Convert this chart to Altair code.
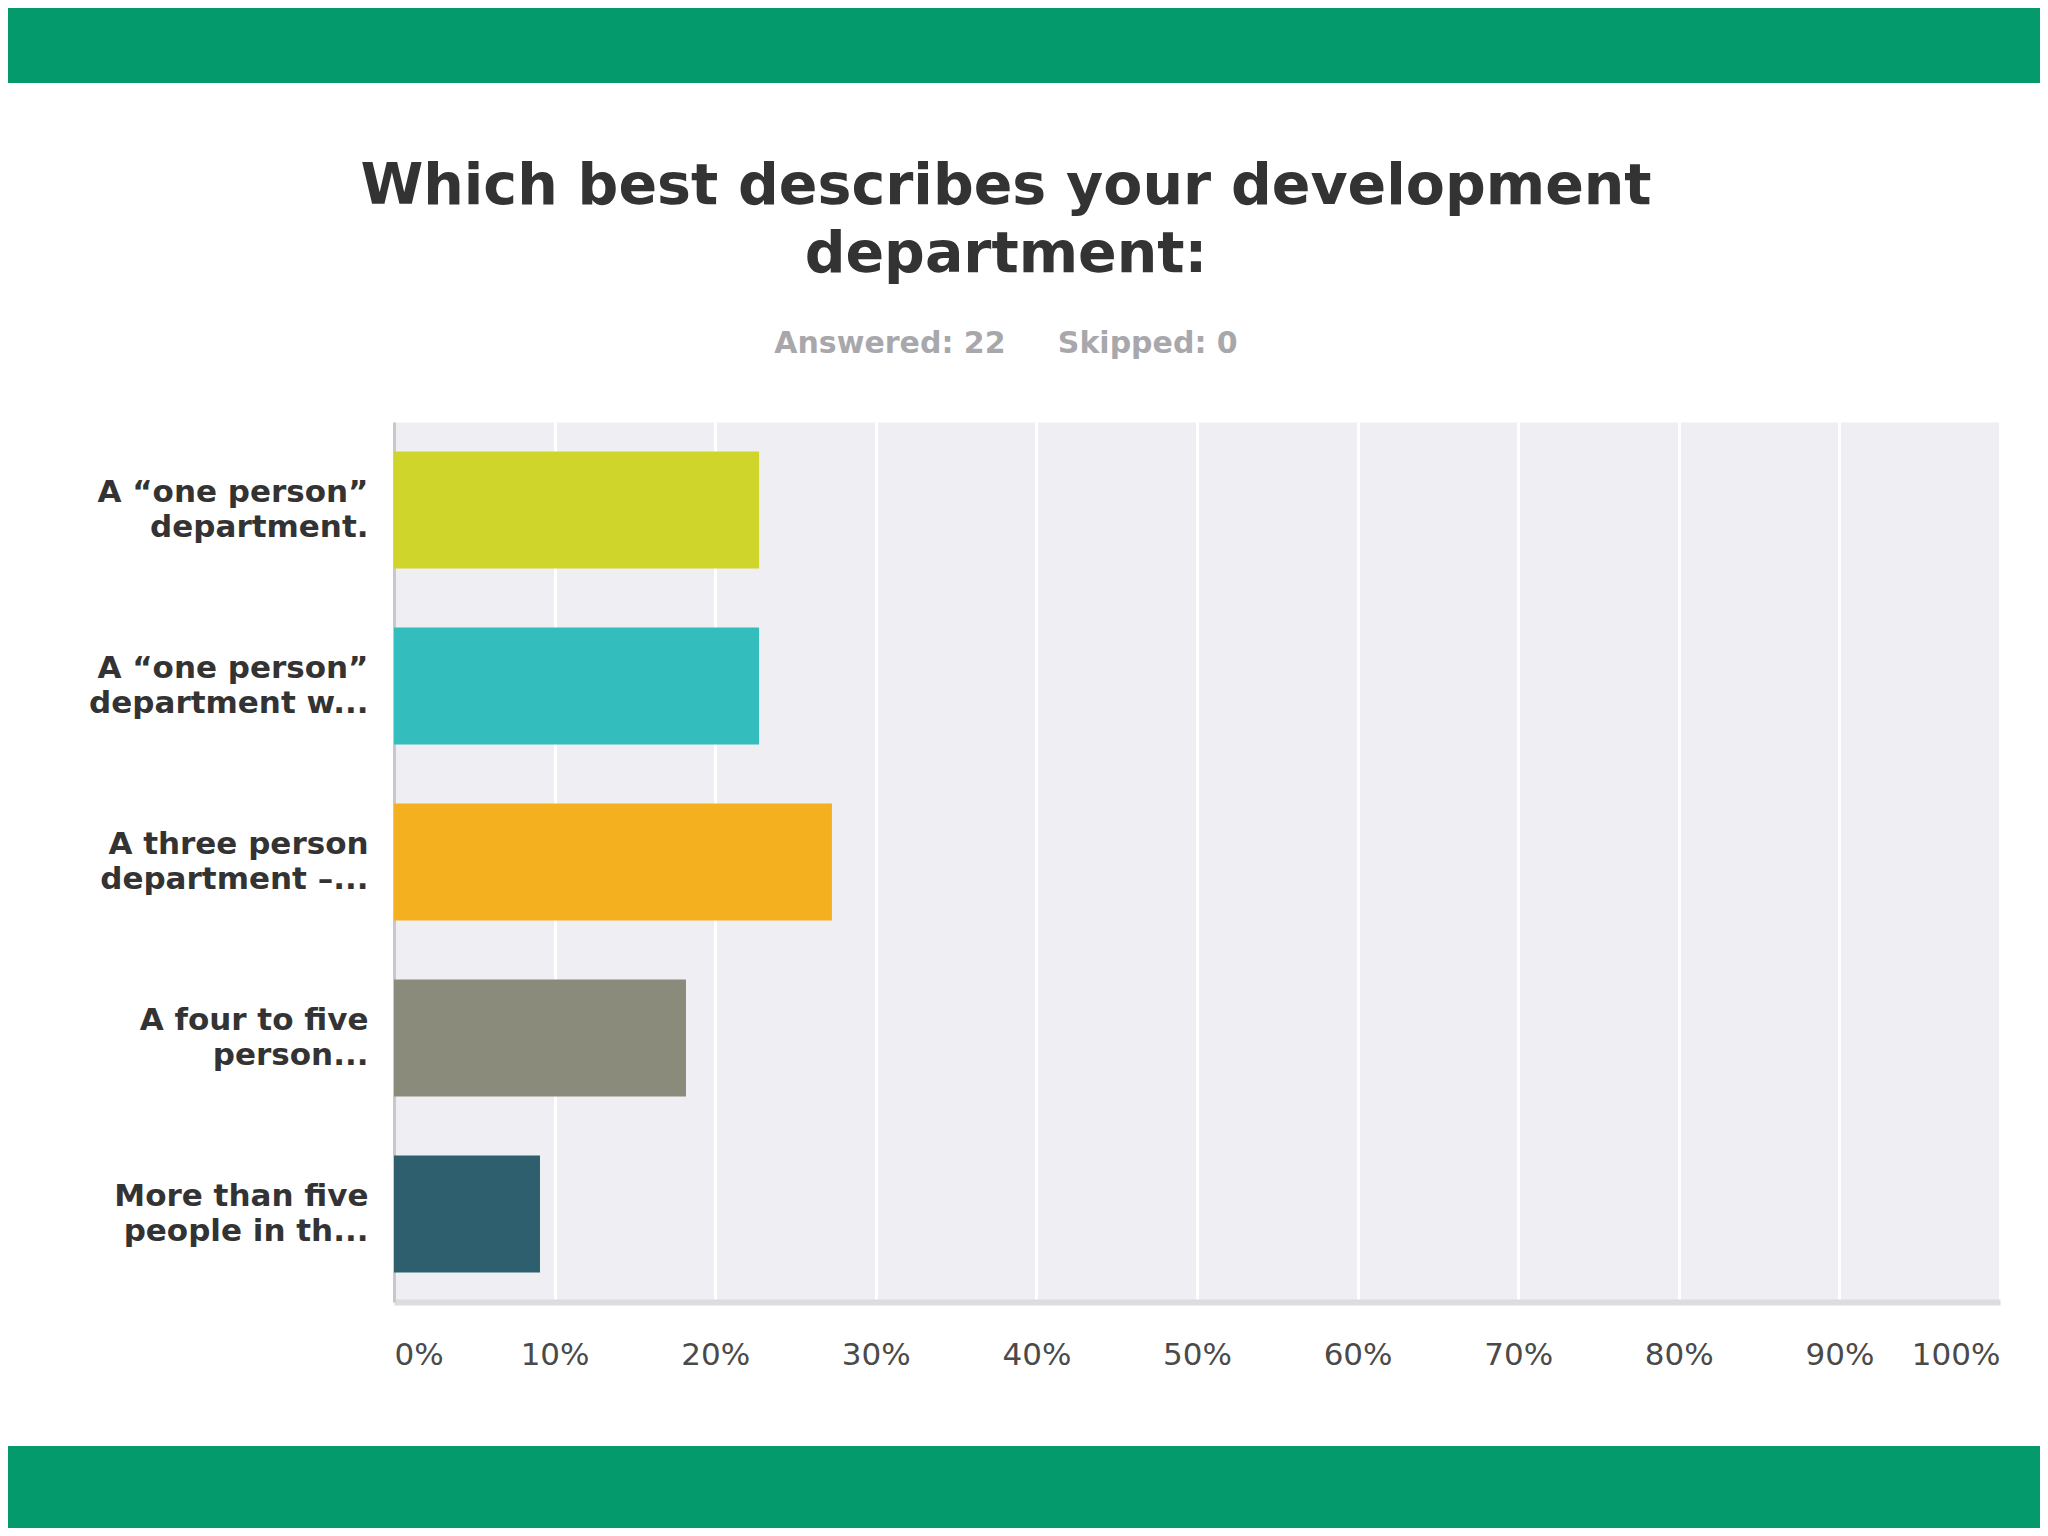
import altair as alt
import pandas as pd

# ---- data ----
categories = [
    "A “one person”\ndepartment.",
    "A “one person”\ndepartment w...",
    "A three person\ndepartment –...",
    "A four to five\nperson...",
    "More than five\npeople in th...",
]
percents = [22.73, 22.73, 27.27, 18.18, 9.09]
bar_colors = ["#cfd52b", "#33bdbd", "#f4b01f", "#8a8b7a", "#2e5f6e"]
tick_values = [0, 10, 20, 30, 40, 50, 60, 70, 80, 90, 100]

title_lines = ["Which best describes your development", "department:"]
subtitle_text = "Answered: 22\u00a0\u00a0\u00a0\u00a0\u00a0Skipped: 0"

df = pd.DataFrame({"answer": categories, "pct": [p / 100 for p in percents]})

W, H = 1606, 880
PAD_L, PAD_T, PAD_R, PAD_B = 386, 414, 40, 226
GREEN = "#049a6b"
TITLE_X = 612

bars = alt.Chart(df).mark_bar().encode(
    y=alt.Y(
        "answer:N",
        sort=categories,
        scale=alt.Scale(paddingInner=0.335, paddingOuter=0.1675),
        axis=alt.Axis(
            title=None,
            labelExpr="split(datum.label, '\\n')",
            labelFont="DejaVu Sans",
            labelFontWeight="bold",
            labelFontSize=31,
            labelColor="#333333",
            labelLineHeight=35,
            labelPadding=26,
            labelOffset=-17,
            labelLimit=500,
            labelAlign="right",
            labelBaseline="middle",
            ticks=False,
            tickSize=0,
            domain=True,
            domainColor="#c8c8cc",
            domainWidth=3,
            grid=False,
        ),
    ),
    x=alt.X(
        "pct:Q",
        scale=alt.Scale(domain=[0, 1]),
        axis=alt.Axis(
            title=None,
            values=[v / 100 for v in tick_values],
            format=".0%",
            labelFont="DejaVu Sans",
            labelFontSize=31,
            labelColor="#4a4a4a",
            labelPadding=38,
            labelFlush=True,
            ticks=False,
            tickSize=0,
            domain=True,
            domainColor="#dcdbde",
            domainWidth=6,
            grid=True,
            gridColor="#ffffff",
            gridWidth=3,
        ),
    ),
    color=alt.Color(
        "answer:N",
        scale=alt.Scale(domain=categories, range=bar_colors),
        legend=None,
    ),
)

one = alt.Data(values=[{"k": 1}])
top_band = alt.Chart(one).mark_rect(color=GREEN).encode(
    x=alt.value(-PAD_L), x2=alt.value(W + PAD_R),
    y=alt.value(-PAD_T), y2=alt.value(-339),
)
bottom_band = alt.Chart(one).mark_rect(color=GREEN).encode(
    x=alt.value(-PAD_L), x2=alt.value(W + PAD_R),
    y=alt.value(1024), y2=alt.value(H + PAD_B),
)

title_style = dict(font="DejaVu Sans", fontSize=57, fontWeight="bold",
                   color="#333333", align="center", baseline="alphabetic")
title1 = alt.Chart(one).mark_text(**title_style).encode(
    x=alt.value(TITLE_X), y=alt.value(-218), text=alt.value(title_lines[0]))
title2 = alt.Chart(one).mark_text(**title_style).encode(
    x=alt.value(TITLE_X), y=alt.value(-150), text=alt.value(title_lines[1]))
subtitle = alt.Chart(one).mark_text(
    font="DejaVu Sans", fontSize=30, fontWeight="bold", color="#a8a8ac",
    align="center", baseline="alphabetic",
).encode(x=alt.value(TITLE_X), y=alt.value(-69), text=alt.value(subtitle_text))

chart = alt.layer(top_band, bottom_band, title1, title2, subtitle, bars).properties(
    width=W,
    height=H,
    autosize=alt.AutoSizeParams(type="none"),
    padding={"left": PAD_L, "top": PAD_T, "right": PAD_R, "bottom": PAD_B},
).configure(background="white").configure_view(fill="#efeef2", stroke="transparent")

chart.save("out.html", embed_options={"renderer": "svg", "actions": False})
